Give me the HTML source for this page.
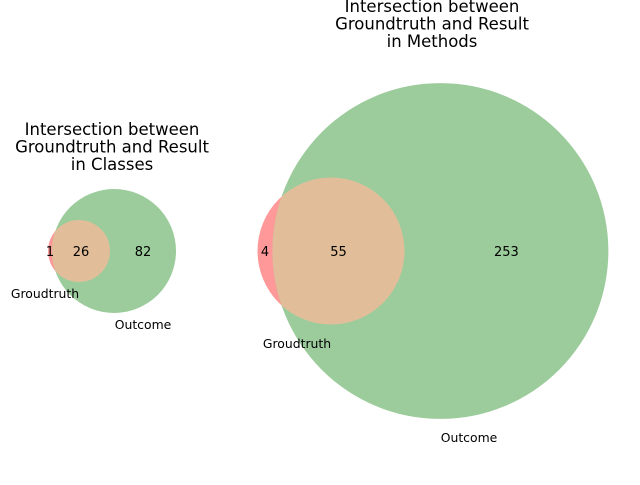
<!DOCTYPE html>
<html><head><meta charset="utf-8"><style>
body{margin:0;background:#fff}
svg text{font-family:"DejaVu Sans","Liberation Sans",sans-serif}
</style></head><body>
<svg id="chart" width="640" height="480">
<g id="gL"></g>
<g id="gR"></g>
<text x="112" y="135" font-size="16.5" text-anchor="middle"><tspan x="112">Intersection between</tspan><tspan x="112" dy="17.5">Groundtruth and Result</tspan><tspan x="112" dy="17.5">in Classes</tspan></text>
<text x="432" y="12" font-size="16.5" text-anchor="middle"><tspan x="432">Intersection between</tspan><tspan x="432" dy="17.5">Groundtruth and Result</tspan><tspan x="432" dy="17.5">in Methods</tspan></text>
</svg>
<script>
const setNames = ["Groudtruth", "Outcome"];
const leftValues = [1, 26, 82];   // only A, both, only B
const rightValues = [4, 55, 253];
const NS = "http://www.w3.org/2000/svg";
function lens(r1, r2, d){
  if (d >= r1 + r2) return 0;
  if (d <= Math.abs(r1 - r2)) return Math.PI * Math.min(r1, r2) ** 2;
  const a = r1*r1*Math.acos((d*d + r1*r1 - r2*r2)/(2*d*r1));
  const b = r2*r2*Math.acos((d*d + r2*r2 - r1*r1)/(2*d*r2));
  const c = 0.5*Math.sqrt((-d+r1+r2)*(d+r1-r2)*(d-r1+r2)*(d+r1+r2));
  return a + b - c;
}
function el(g, tag, attrs){ const e = document.createElementNS(NS, tag); for (const k in attrs) e.setAttribute(k, attrs[k]); g.appendChild(e); return e; }
function draw(id, vals, cxA, cy, rA, lblA, lblB, fs){
  const g = document.getElementById(id);
  const areaA = vals[0] + vals[1], areaB = vals[2] + vals[1];
  const s = rA / Math.sqrt(areaA / Math.PI);
  const rB = s * Math.sqrt(areaB / Math.PI);
  const target = vals[1] * s * s;
  let lo = Math.abs(rB - rA), hi = rA + rB;
  for (let i = 0; i < 60; i++){ const m = (lo + hi)/2; if (lens(rA, rB, m) > target) lo = m; else hi = m; }
  const d = (lo + hi)/2, cxB = cxA + d;
  const ca = el(g, "circle", {cx: cxA, cy: cy, r: rA, fill: "#ff9999"});
  
  
  const cb = el(g, "circle", {cx: cxB, cy: cy, r: rB, fill: "#9ccc9c"});
  
  
  const cpId = id + "clip";
  const cp = el(g, "clipPath", {id: cpId});
  el(cp, "circle", {cx: cxB, cy: cy, r: rB});
  const ci = el(g, "circle", {cx: cxA, cy: cy, r: rA, fill: "#e1be99", "clip-path": "url(#" + cpId + ")"});
  
  
  const aL = cxA - rA, bL = cxB - rB, aR = cxA + rA, bR = cxB + rB;
  const xs = [(aL + bL)/2, (bL + aR)/2, (aR + bR)/2];
  const names = ['label-only-groundtruth', 'label-both', 'label-only-outcome'];
  for (let i = 0; i < 3; i++){
    const t = el(g, "text", {x: xs[i], y: cy + 5, "font-size": fs, "text-anchor": "middle"});
    t.textContent = vals[i];
    
    
  }
  const ta = el(g, "text", {x: lblA[0], y: lblA[1], "font-size": 12.4, "text-anchor": "middle"});
  ta.textContent = setNames[0];
  
  
  const tb = el(g, "text", {x: lblB[0], y: lblB[1], "font-size": 12.4, "text-anchor": "middle"});
  tb.textContent = setNames[1];
  
  
}
draw("gL", leftValues, 79, 251, 31, [45, 298], [143, 329], 13);
draw("gR", rightValues, 331, 251, 73.5, [297, 348], [469, 442], 13);
</script>
</body></html>
